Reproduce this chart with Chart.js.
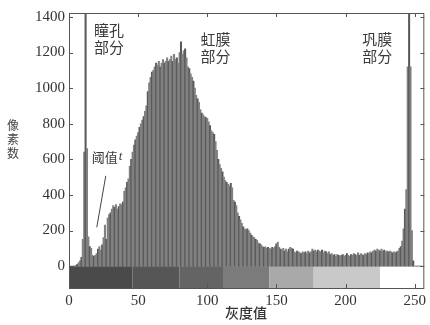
<!DOCTYPE html>
<html lang="zh">
<head>
<meta charset="UTF-8">
<title>灰度直方图</title>
<script src="https://cdn.jsdelivr.net/npm/chart.js"></script>
<style>
  body { margin: 0; background: #fff; }
</style>
</head>
<body>
<canvas id="hist" width="430" height="325"></canvas>
<script>
// pixel count for each grey level 0..255
const counts = [
  0,0,0,0,0,5,10,20,30,50,150,640,1500,660,165,110,
  100,60,55,60,70,95,110,90,120,160,230,150,270,290,300,320,
  340,330,345,320,335,350,345,360,420,440,470,490,560,600,640,680,
  710,730,750,780,800,820,840,870,900,980,1030,1060,1090,1100,1120,1140,
  1130,1150,1120,1140,1160,1140,1150,1170,1150,1160,1180,1150,1190,1160,1170,1140,
  1200,1260,1190,1210,1220,1170,1120,1110,1080,1060,1040,1000,960,940,920,880,
  860,850,840,835,830,810,790,760,750,740,700,650,600,570,550,530,
  500,480,470,460,450,465,440,370,360,340,300,280,260,240,220,210,
  205,210,200,185,175,165,160,150,145,130,125,120,110,105,108,100,
  105,100,95,105,100,110,125,135,105,95,90,100,85,95,80,95,
  105,100,95,80,75,85,80,75,70,80,75,80,70,85,75,80,
  95,85,90,80,90,85,80,90,75,85,80,70,80,65,70,60,
  65,55,65,60,55,60,65,55,60,70,60,55,65,60,70,65,
  60,75,60,70,65,60,70,65,75,70,80,75,85,90,85,95,
  90,85,95,85,90,80,85,80,85,80,75,80,75,80,85,100,
  110,140,210,320,430,1120,1500,1120,200,30,0,0,0,0,0,0
];
const xTicks = [0, 50, 100, 150, 200, 250];
const yTicks = [0, 200, 400, 600, 800, 1000, 1200, 1400];

// grey strip under the axis: block edges (grey level) and their shades
const stripEdges = [0, 46, 80, 112, 145, 177, 225, 257];
const stripShades = ['#4a4a4a', '#565656', '#646464', '#7b7b7b', '#a9a9a9', '#c9c9c9', '#ffffff'];

const regionNames = [['瞳孔', '部分'], ['虹膜', '部分'], ['巩膜', '部分']];
const regionAt = [[29, 1327, 1227], [106, 1277, 1177], [223, 1277, 1177]];

const serif = '"Liberation Serif", "DejaVu Serif", serif';
const cjk = '"Noto Sans CJK SC", sans-serif';

const extras = {
  id: 'extras',
  beforeDatasetsDraw(chart) {
    const {ctx, chartArea, scales: {x, y}} = chart;
    const y0 = y.getPixelForValue(0);
    ctx.save();
    for (let i = 0; i < stripShades.length; i++) {
      const a = x.getPixelForValue(stripEdges[i]);
      const b = x.getPixelForValue(stripEdges[i + 1]);
      ctx.fillStyle = stripShades[i];
      ctx.fillRect(a, y0, Math.min(b, chartArea.right) - a, chartArea.bottom - y0);
    }
    ctx.restore();
  },
  afterDraw(chart) {
    const {ctx, chartArea: ca, scales: {x, y}} = chart;
    ctx.save();
    // frame with inward ticks
    ctx.strokeStyle = '#555';
    ctx.lineWidth = 1;
    ctx.strokeRect(ca.left + 0.5, ca.top + 0.5, ca.right - ca.left - 1, ca.bottom - ca.top);
    ctx.beginPath();
    xTicks.forEach(v => {
      const px = Math.round(x.getPixelForValue(v)) + 0.5;
      ctx.moveTo(px, ca.bottom); ctx.lineTo(px, ca.bottom - 4);
      ctx.moveTo(px, ca.top); ctx.lineTo(px, ca.top + 4);
    });
    yTicks.forEach(v => {
      const py = Math.round(y.getPixelForValue(v)) + 0.5;
      ctx.moveTo(ca.left, py); ctx.lineTo(ca.left + 4, py);
      ctx.moveTo(ca.right, py); ctx.lineTo(ca.right - 4, py);
    });
    ctx.stroke();

    // region labels
    ctx.fillStyle = '#3a3a3a';
    ctx.textAlign = 'center';
    ctx.textBaseline = 'middle';
    ctx.font = '15px ' + cjk;
    regionNames.forEach((lines, i) => {
      const px = x.getPixelForValue(regionAt[i][0]);
      ctx.fillText(lines[0], px, y.getPixelForValue(regionAt[i][1]));
      ctx.fillText(lines[1], px, y.getPixelForValue(regionAt[i][2]));
    });

    // threshold note and pointer
    ctx.textAlign = 'left';
    ctx.font = '13px ' + cjk;
    const tx = x.getPixelForValue(16.5), ty = y.getPixelForValue(613);
    ctx.fillText('阈值', tx, ty);
    ctx.font = 'italic 13px ' + serif;
    ctx.fillText('t', tx + 27, ty);
    ctx.beginPath();
    ctx.strokeStyle = '#444';
    ctx.moveTo(x.getPixelForValue(26.6), y.getPixelForValue(507));
    ctx.lineTo(x.getPixelForValue(20.1), y.getPixelForValue(218));
    ctx.stroke();

    // axis titles
    ctx.textAlign = 'center';
    ctx.fillStyle = '#444';
    ctx.font = '12px ' + cjk;
    ['像', '素', '数'].forEach((c, i) => ctx.fillText(c, 13, 125 + i * 14));
    ctx.fillStyle = '#333';
    ctx.font = '500 14px ' + cjk;
    ctx.fillText('灰度值', 246, 313);
    ctx.restore();
  }
};

new Chart(document.getElementById('hist'), {
  type: 'bar',
  data: {
    datasets: [{
      data: counts.map((c, i) => ({x: i, y: c})),
      backgroundColor: ctx => (ctx.dataIndex % 3 === 0 ? '#5a5a5a' : '#808080'),
      borderWidth: 0,
      barPercentage: 1,
      categoryPercentage: 1
    }]
  },
  options: {
    responsive: false,
    animation: false,
    layout: {padding: {top: 11, right: 4, left: 0, bottom: 0}},
    plugins: {legend: {display: false}, tooltip: {enabled: false}},
    scales: {
      x: {
        type: 'linear', min: 0, max: 257, offset: false,
        grid: {display: false, drawTicks: false, offset: false},
        border: {display: false},
        afterBuildTicks: s => { s.ticks = xTicks.map(v => ({value: v})); },
        afterFit: s => { s.height = 37; },
        ticks: {padding: 4, maxRotation: 0, autoSkip: false, color: '#333',
                font: {family: serif, size: 15}, callback: v => String(v)}
      },
      y: {
        min: -123, max: 1422,
        grid: {display: false, drawTicks: false},
        border: {display: false},
        afterBuildTicks: s => { s.ticks = yTicks.map(v => ({value: v})); },
        afterFit: s => { s.width = 69; },
        ticks: {padding: 4, color: '#333', font: {family: serif, size: 15}, callback: v => String(v)}
      }
    }
  },
  plugins: [extras]
});
</script>
</body>
</html>
